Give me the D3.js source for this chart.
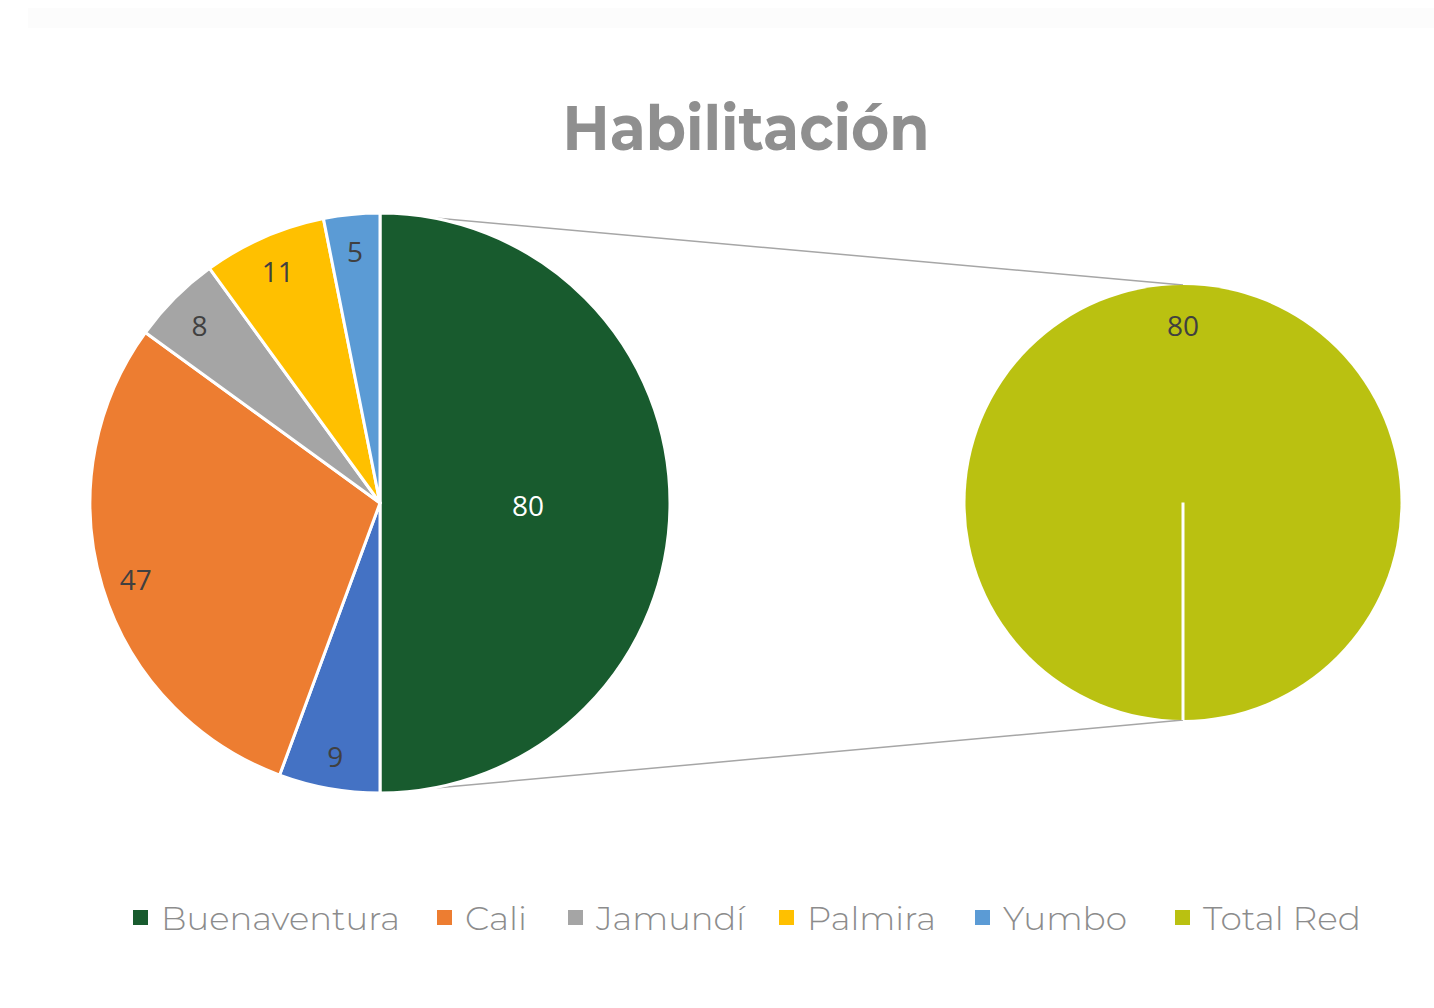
<!DOCTYPE html>
<html>
<head>
<meta charset="utf-8">
<script src="https://cdn.jsdelivr.net/npm/d3@7"></script>
<style>
  html, body { margin: 0; padding: 0; background: #fff; }
</style>
</head>
<body>
<div id="chart"></div>
<script>
// primary pie (clockwise from 12 o'clock); "Otros" is the slice that feeds the second pie
const mainNames = ["Buenaventura", "Otros", "Cali", "Jamundí", "Palmira", "Yumbo"];
const mainValues = [80, 9, 47, 8, 11, 5];
const mainColors = ["#185B2E", "#4472C4", "#ED7D31", "#A5A5A5", "#FFC000", "#5B9BD5"];

// secondary pie
const subNames = ["Total Red"];
const subValues = [80];
const subColors = ["#BAC111"];

// legend
const legendNames = ["Buenaventura", "Cali", "Jamundí", "Palmira", "Yumbo", "Total Red"];
const legendColors = ["#185B2E", "#ED7D31", "#A5A5A5", "#FFC000", "#5B9BD5", "#BAC111"];

const width = 1434, height = 1008;

const svg = d3.select("#chart")
  .append("svg")
    .attr("width", width)
    .attr("height", height);

svg.append("rect")
  .attr("width", width)
  .attr("height", height)
  .attr("fill", "#fff");

// faint band at the top
svg.append("rect")
  .attr("x", 28).attr("y", 8)
  .attr("width", width - 28).attr("height", 20)
  .attr("fill", "#fcfcfc");

// title
svg.append("text")
  .attr("x", 746)
  .attr("y", 150)
  .attr("text-anchor", "middle")
  .attr("font-family", "Montserrat, 'Open Sans', sans-serif")
  .attr("font-weight", 700)
  .attr("font-size", 62)
  .attr("fill", "#8f8f8f")
  .attr("textLength", 367)
  .attr("lengthAdjust", "spacingAndGlyphs")
  .text("Habilitación");

const main = { cx: 380, cy: 503, r: 290 };
const sub = { cx: 1183, cy: 502.5, r: 217.5 };

// connector lines
const connectors = [
  [[main.cx, main.cy - main.r], [sub.cx, sub.cy - sub.r]],
  [[main.cx, main.cy + main.r], [sub.cx, sub.cy + sub.r]]
];
svg.selectAll("line.connector")
  .data(connectors)
  .enter()
  .append("line")
    .attr("class", "connector")
    .attr("x1", d => d[0][0]).attr("y1", d => d[0][1])
    .attr("x2", d => d[1][0]).attr("y2", d => d[1][1])
    .attr("stroke", "#a6a6a6")
    .attr("stroke-width", 1.5);

// primary pie
const mainData = mainNames.map((name, i) => ({ name, value: mainValues[i], color: mainColors[i] }));
const pie = d3.pie().sort(null).value(d => d.value);
const mainArcs = pie(mainData);

const arc = d3.arc().innerRadius(0).outerRadius(main.r);
const gMain = svg.append("g")
  .attr("transform", `translate(${main.cx}, ${main.cy})`);

gMain.selectAll("path")
  .data(mainArcs)
  .enter()
  .append("path")
    .attr("d", arc)
    .attr("fill", d => d.data.color)
    .attr("stroke", "#fff")
    .attr("stroke-width", 3)
    .attr("stroke-linejoin", "round");

const labelArc = d => {
  const lr = d.data.name === "Buenaventura" ? main.r * 0.51 : main.r * 0.88;
  return d3.arc().innerRadius(lr).outerRadius(lr).centroid(d);
};

gMain.selectAll("text")
  .data(mainArcs)
  .enter()
  .append("text")
    .attr("x", d => labelArc(d)[0])
    .attr("y", d => labelArc(d)[1] + 2)
    .attr("text-anchor", "middle")
    .attr("dominant-baseline", "central")
    .attr("font-family", "'Open Sans', sans-serif")
    .attr("font-size", 28)
    .attr("fill", d => d.data.name === "Buenaventura" ? "#fff" : "#404040")
    .text(d => d.data.value);

// secondary pie
const subData = subNames.map((name, i) => ({ name, value: subValues[i], color: subColors[i] }));
const subPie = d3.pie().sort(null).value(d => d.value)
  .startAngle(Math.PI).endAngle(3 * Math.PI);
const subArcs = subPie(subData);
const subArc = d3.arc().innerRadius(0).outerRadius(sub.r);

const gSub = svg.append("g")
  .attr("transform", `translate(${sub.cx}, ${sub.cy})`);

gSub.selectAll("path")
  .data(subArcs)
  .enter()
  .append("path")
    .attr("d", subArc)
    .attr("fill", d => d.data.color);

// slice boundary (full slice starts at the bottom)
gSub.selectAll("line")
  .data(subArcs)
  .enter()
  .append("line")
    .attr("x1", 0).attr("y1", 0)
    .attr("x2", d => Math.sin(d.startAngle) * sub.r)
    .attr("y2", d => -Math.cos(d.startAngle) * sub.r)
    .attr("stroke", "#fff")
    .attr("stroke-width", 3);

gSub.selectAll("text")
  .data(subArcs)
  .enter()
  .append("text")
    .attr("x", 0)
    .attr("y", -sub.r * 0.815)
    .attr("text-anchor", "middle")
    .attr("dominant-baseline", "central")
    .attr("font-family", "'Open Sans', sans-serif")
    .attr("font-size", 28)
    .attr("fill", "#404040")
    .text(d => d.data.value);

// legend
const legendX = [133, 437, 568, 779, 975, 1175];
const legendW = [239, 62, 149, 129, 124, 158];
const legend = svg.append("g").attr("class", "legend");
const items = legend.selectAll("g")
  .data(legendNames)
  .enter()
  .append("g")
    .attr("transform", (d, i) => `translate(${legendX[i]}, 0)`);

items.append("rect")
  .attr("x", 0).attr("y", 910)
  .attr("width", 15).attr("height", 15)
  .attr("fill", (d, i) => legendColors[i]);

items.append("text")
  .attr("x", 28)
  .attr("y", 930)
  .attr("font-family", "Montserrat, 'Open Sans', sans-serif")
  .attr("font-weight", 300)
  .attr("font-size", 32)
  .attr("fill", "#8c8c8c")
  .attr("textLength", (d, i) => legendW[i])
  .attr("lengthAdjust", "spacingAndGlyphs")
  .text(d => d);
</script>
</body>
</html>
